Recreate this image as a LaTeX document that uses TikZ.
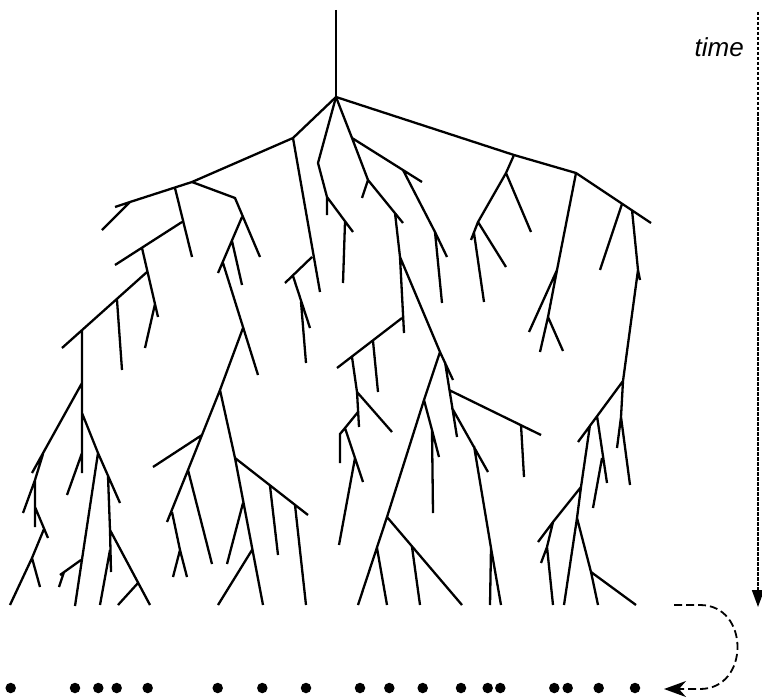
\documentclass[tikz,border=0pt]{standalone}
\usepackage{fontspec}
\setsansfont{Liberation Sans}
\usetikzlibrary{arrows.meta}

\begin{document}
\begin{tikzpicture}[
  % pixel grid: x goes right, y goes down
  x={(1pt,0pt)},
  y={(0pt,-1pt)},
  branch/.style={line width=2.3pt, black},
  leafdot/.style={circle, fill=black, inner sep=0pt, minimum size=10.5pt},
  timeaxis/.style={line width=1.8pt, dash pattern=on 3.5pt off 1.5pt,
    -{Triangle[length=17pt,width=12pt]}},
  foldarrow/.style={line width=1.8pt, dash pattern=on 8pt off 4pt,
    -{Stealth[length=22pt,width=16pt,inset=7pt]}},
]
\useasboundingbox (0,0) rectangle (762,698);

% --- trunk ---
\draw[branch] (336,10) -- (336,97);

% --- left limb ---
\draw[branch] (336,97) -- (293,138) -- (192,182) -- (130,202) -- (115,207)
  (130,202) -- (102,230)
  (293,138) -- (320,292)
  (312,257) -- (285,283)
  (293,276) -- (310,328)
  (301,302) -- (306,363);

% --- middle-left limb ---
\draw[branch] (192,182) -- (235,198) -- (260,257)
  (242,217) -- (218,273)
  (232,241) -- (242,285)
  (223,263) -- (258,375)
  (243,328) -- (220,390) -- (202,435) -- (188,470) -- (167,522)
  (202,435) -- (153,467)
  (172,512) -- (180,550) -- (173,577)
  (180,550) -- (187,577)
  (188,470) -- (212,564)
  (220,390) -- (235,458) -- (263,605)
  (235,458) -- (308,515)
  (270,486) -- (278,555)
  (295,505) -- (306,605)
  (243,503) -- (227,564)
  (252,550) -- (218,605);

% --- far left limb ---
\draw[branch] (175,188) -- (192,257)
  (182,222) -- (115,265)
  (142,248) -- (158,317)
  (147,272) -- (62,348)
  (155,304) -- (145,348)
  (117,300) -- (122,370)
  (82,330) -- (82,473)
  (82,383) -- (32,473)
  (43,454) -- (35,480) -- (35,527)
  (35,480) -- (23,513)
  (35,507) -- (48,538)
  (44,529) -- (32,558) -- (10,605)
  (32,558) -- (40,587)
  (82,413) -- (98,453) -- (120,503)
  (98,453) -- (75,606)
  (82,453) -- (67,495)
  (81,560) -- (60,575)
  (64,572) -- (59,587)
  (108,476) -- (110,530) -- (150,605)
  (110,530) -- (111,572)
  (110,550) -- (100,605)
  (138,583) -- (118,605);

% --- short limb straight down ---
\draw[branch] (336,97) -- (318,163) -- (327,197) -- (353,232)
  (327,197) -- (327,215)
  (345,222) -- (343,283);

% --- central limb ---
\draw[branch] (336,97) -- (352,138) -- (422,182)
  (403,170) -- (435,232) -- (447,257)
  (435,232) -- (442,303)
  (352,138) -- (368,180) -- (362,198)
  (368,180) -- (403,223)
  (395,213) -- (400,257) -- (404,333)
  (400,257) -- (440,352) -- (453,380)
  (402,318) -- (337,368)
  (373,341) -- (378,392)
  (352,357) -- (357,392) -- (392,432)
  (357,392) -- (359,427)
  (358,412) -- (345,428) -- (340,434) -- (340,463)
  (345,428) -- (363,482)
  (355,458) -- (339,545)
  (445,362) -- (457,437)
  (449,390) -- (541,435)
  (521,425) -- (524,477)
  (452,408) -- (488,472)
  (474,446) -- (491,548) -- (501,605)
  (491,548) -- (490,605)
  (440,352) -- (424,400) -- (387,517) -- (358,605)
  (424,400) -- (432,430) -- (439,457)
  (432,430) -- (433,513)
  (387,517) -- (462,605)
  (377,548) -- (387,605)
  (412,547) -- (420,605);

% --- right limb ---
\draw[branch] (336,97) -- (514,155) -- (576,173) -- (651,223)
  (514,155) -- (506,173) -- (478,222) -- (471,240)
  (506,173) -- (531,232)
  (478,222) -- (506,267)
  (474,233) -- (484,302)
  (576,173) -- (557,270) -- (529,332)
  (557,270) -- (548,317) -- (540,352)
  (548,317) -- (563,351)
  (622,204) -- (600,270)
  (632,210) -- (638,270) -- (640,280)
  (638,270) -- (623,381) -- (578,442)
  (623,381) -- (621,417) -- (630,485)
  (621,417) -- (617,448)
  (597,416) -- (607,483)
  (602,458) -- (593,508)
  (590,425) -- (581,487) -- (577,518) -- (564,605)
  (581,487) -- (553,522) -- (538,542)
  (553,522) -- (547,547) -- (541,563)
  (547,547) -- (553,605)
  (577,518) -- (591,572) -- (598,605)
  (591,572) -- (636,605);

% --- sampled lineages ---
\foreach \x [count=\i] in {10.7,75,98.3,116.7,147.7,217.7,262.3,306,360,
    389.3,422.7,461,487.7,500.3,554.3,567.7,598.7,635}
  \node[leafdot] (dot-\i) at (\x,688) {};

% --- time axis ---
\coordinate (time-start) at (758,12);
\coordinate (time-end) at (758,607);
\draw[timeaxis] (time-start) -- (time-end);
\node[anchor=base east, inner sep=0pt,
      font=\fontsize{26}{30}\selectfont\sffamily\itshape] (timelabel)
  at (744,57) {time};

% --- fold down to the sample row ---
\coordinate (fold-start) at (674,605);
\coordinate (fold-end) at (664,689);
\draw[foldarrow] (fold-start) -- (700,605)
  .. controls (750,605) and (750,689) .. (700,689) -- (fold-end);

\end{tikzpicture}
\end{document}
